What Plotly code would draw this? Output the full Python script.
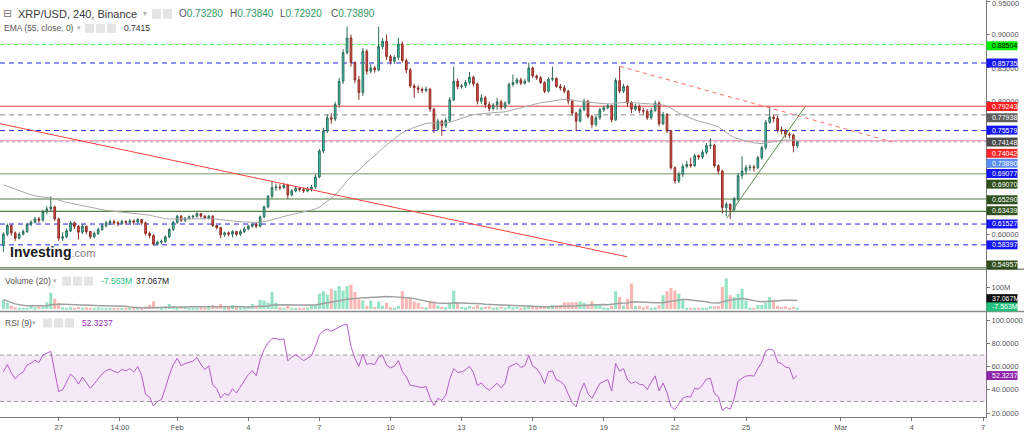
import plotly.graph_objects as go
import pandas as pd

W, H = 1024, 432
START = "2022-01-24 16:00"
open_first = 0.583

close = [
    0.600, 0.613, 0.602, 0.594, 0.600, 0.604, 0.615, 0.618, 0.623, 0.621,
    0.634, 0.638, 0.641, 0.623, 0.594, 0.596, 0.605, 0.617, 0.612, 0.603,
    0.612, 0.604, 0.596, 0.601, 0.607, 0.613, 0.617, 0.619, 0.617, 0.616,
    0.619, 0.618, 0.620, 0.618, 0.622, 0.617, 0.601, 0.598, 0.585, 0.588,
    0.589, 0.596, 0.607, 0.618, 0.627, 0.621, 0.624, 0.626, 0.627, 0.631,
    0.627, 0.624, 0.627, 0.613, 0.610, 0.599, 0.602, 0.600, 0.604, 0.600,
    0.604, 0.608, 0.612, 0.615, 0.612, 0.626, 0.641, 0.657, 0.670, 0.671,
    0.670, 0.674, 0.659, 0.665, 0.669, 0.667, 0.665, 0.668, 0.671, 0.686,
    0.725, 0.755, 0.775, 0.773, 0.795, 0.830, 0.873, 0.895, 0.858, 0.832,
    0.813, 0.875, 0.845, 0.850, 0.847, 0.882, 0.890, 0.867, 0.860, 0.866,
    0.886, 0.861, 0.847, 0.823, 0.820, 0.818, 0.816, 0.818, 0.788, 0.758,
    0.770, 0.763, 0.771, 0.802, 0.830, 0.822, 0.823, 0.828, 0.836, 0.826,
    0.800, 0.805, 0.795, 0.789, 0.794, 0.799, 0.791, 0.797, 0.825, 0.828,
    0.832, 0.827, 0.830, 0.850, 0.838, 0.835, 0.828, 0.815, 0.833, 0.834,
    0.822, 0.820, 0.815, 0.800, 0.782, 0.770, 0.787, 0.800, 0.777, 0.765,
    0.775, 0.787, 0.790, 0.793, 0.772, 0.831, 0.815, 0.822, 0.797, 0.788,
    0.792, 0.786, 0.785, 0.775, 0.786, 0.797, 0.766, 0.780, 0.755, 0.700,
    0.680, 0.690, 0.702, 0.705, 0.703, 0.718, 0.716, 0.723, 0.733, 0.734,
    0.703, 0.695, 0.640, 0.645, 0.637, 0.653, 0.688, 0.695, 0.700, 0.701,
    0.700, 0.715, 0.730, 0.768, 0.776, 0.774, 0.757, 0.755, 0.750, 0.749,
    0.7328, 0.7389]

high = [
    0.603, 0.616, 0.615, 0.604, 0.603, 0.607, 0.617, 0.621, 0.626, 0.626,
    0.637, 0.642, 0.657, 0.643, 0.625, 0.603, 0.609, 0.620, 0.619, 0.614,
    0.615, 0.613, 0.605, 0.604, 0.610, 0.616, 0.620, 0.622, 0.622, 0.620,
    0.622, 0.621, 0.623, 0.622, 0.624, 0.623, 0.619, 0.604, 0.600, 0.590,
    0.592, 0.598, 0.609, 0.620, 0.629, 0.629, 0.626, 0.628, 0.629, 0.633,
    0.632, 0.629, 0.629, 0.629, 0.614, 0.611, 0.604, 0.604, 0.606, 0.605,
    0.607, 0.611, 0.614, 0.617, 0.617, 0.628, 0.643, 0.659, 0.680, 0.676,
    0.675, 0.677, 0.676, 0.668, 0.672, 0.671, 0.670, 0.671, 0.674, 0.690,
    0.728, 0.760, 0.780, 0.782, 0.799, 0.835, 0.878, 0.912, 0.900, 0.860,
    0.838, 0.880, 0.878, 0.856, 0.853, 0.912, 0.895, 0.900, 0.870, 0.869,
    0.895, 0.890, 0.864, 0.850, 0.826, 0.824, 0.821, 0.822, 0.820, 0.790,
    0.774, 0.772, 0.775, 0.806, 0.852, 0.834, 0.826, 0.832, 0.844, 0.838,
    0.828, 0.810, 0.808, 0.799, 0.797, 0.805, 0.802, 0.800, 0.828, 0.840,
    0.835, 0.835, 0.833, 0.858, 0.852, 0.840, 0.838, 0.830, 0.836, 0.852,
    0.836, 0.826, 0.824, 0.817, 0.802, 0.784, 0.790, 0.804, 0.802, 0.780,
    0.778, 0.790, 0.793, 0.796, 0.795, 0.835, 0.852, 0.826, 0.824, 0.800,
    0.796, 0.795, 0.790, 0.788, 0.790, 0.801, 0.800, 0.784, 0.782, 0.757,
    0.702, 0.694, 0.706, 0.710, 0.715, 0.721, 0.720, 0.727, 0.737, 0.744,
    0.736, 0.705, 0.697, 0.648, 0.646, 0.656, 0.692, 0.717, 0.704, 0.705,
    0.704, 0.718, 0.733, 0.772, 0.792, 0.780, 0.778, 0.762, 0.758, 0.753,
    0.751, 0.7389]

low = [
    0.573, 0.597, 0.598, 0.590, 0.592, 0.598, 0.602, 0.612, 0.616, 0.617,
    0.619, 0.630, 0.634, 0.620, 0.590, 0.590, 0.594, 0.603, 0.608, 0.592,
    0.600, 0.600, 0.593, 0.594, 0.599, 0.605, 0.610, 0.614, 0.614, 0.612,
    0.614, 0.614, 0.615, 0.614, 0.616, 0.614, 0.598, 0.594, 0.583, 0.583,
    0.585, 0.587, 0.594, 0.605, 0.615, 0.618, 0.618, 0.622, 0.623, 0.625,
    0.625, 0.622, 0.622, 0.611, 0.607, 0.594, 0.596, 0.597, 0.595, 0.597,
    0.597, 0.602, 0.606, 0.610, 0.609, 0.610, 0.624, 0.639, 0.654, 0.665,
    0.666, 0.668, 0.653, 0.657, 0.663, 0.664, 0.662, 0.663, 0.664, 0.668,
    0.684, 0.722, 0.752, 0.766, 0.770, 0.790, 0.826, 0.870, 0.852, 0.827,
    0.802, 0.808, 0.840, 0.842, 0.843, 0.845, 0.878, 0.862, 0.855, 0.856,
    0.862, 0.858, 0.842, 0.820, 0.805, 0.812, 0.812, 0.813, 0.784, 0.752,
    0.755, 0.748, 0.760, 0.768, 0.800, 0.818, 0.819, 0.820, 0.825, 0.822,
    0.795, 0.796, 0.790, 0.785, 0.786, 0.787, 0.787, 0.788, 0.795, 0.822,
    0.825, 0.824, 0.825, 0.828, 0.835, 0.832, 0.826, 0.812, 0.813, 0.830,
    0.820, 0.816, 0.812, 0.795, 0.778, 0.755, 0.768, 0.785, 0.774, 0.760,
    0.762, 0.772, 0.784, 0.788, 0.768, 0.770, 0.812, 0.812, 0.792, 0.782,
    0.785, 0.782, 0.780, 0.772, 0.772, 0.784, 0.762, 0.764, 0.752, 0.697,
    0.676, 0.677, 0.686, 0.699, 0.700, 0.701, 0.712, 0.713, 0.720, 0.728,
    0.700, 0.690, 0.631, 0.627, 0.623, 0.633, 0.650, 0.683, 0.690, 0.695,
    0.694, 0.698, 0.712, 0.727, 0.766, 0.768, 0.753, 0.750, 0.745, 0.744,
    0.723, 0.7292]

volume_m = [
    44, 29, 16, 8, 4, 4, 6, 16, 8, 11,
    12, 32, 76, 48, 29, 8, 6, 8, 6, 10,
    5, 8, 6, 5, 8, 4, 5, 4, 4, 6,
    5, 4, 5, 3, 5, 8, 12, 20, 35, 10,
    8, 12, 24, 14, 8, 10, 14, 6, 5, 6,
    8, 5, 8, 19, 10, 24, 6, 8, 19, 8,
    6, 8, 10, 24, 10, 44, 40, 29, 80, 29,
    8, 6, 16, 6, 5, 4, 5, 6, 19, 19,
    72, 83, 67, 95, 87, 108, 87, 108, 114, 80,
    48, 40, 16, 40, 10, 35, 16, 29, 8, 6,
    16, 83, 48, 48, 35, 29, 10, 8, 35, 35,
    16, 10, 8, 29, 87, 29, 10, 8, 14, 10,
    19, 8, 10, 12, 6, 8, 10, 6, 14, 8,
    10, 6, 8, 19, 10, 8, 12, 16, 10, 19,
    16, 19, 32, 32, 32, 32, 35, 29, 16, 35,
    24, 19, 8, 6, 16, 83, 56, 16, 48, 119,
    16, 16, 8, 16, 6, 8, 19, 64, 83, 98,
    87, 72, 48, 6, 4, 4, 5, 4, 6, 12,
    12, 14, 103, 143, 64, 56, 72, 95, 40, 6,
    6, 19, 19, 29, 56, 44, 16, 10, 12, 4,
    10, 2]

x_tick_dates = ["2022-01-27", "2022-01-29 14:00", "2022-02-01", "2022-02-04",
                "2022-02-07", "2022-02-10", "2022-02-13", "2022-02-16",
                "2022-02-19", "2022-02-22", "2022-02-25", "2022-03-01",
                "2022-03-04", "2022-03-07"]
x_tick_text = ["27", "14:00", "Feb", "4", "7", "10", "13", "16", "19", "22",
               "25", "Mar", "4", "7"]

# price-axis ticks (label text shown only where the reference shows it)
price_ticks = [0.55, 0.60, 0.65, 0.70, 0.75, 0.80, 0.85, 0.90, 0.95]
price_tick_text = ["", "0.60000", "", "", "", "0.80000", "0.85000", "0.90000", ""]

# horizontal levels: price, color, dash, width
levels = [
    (0.88504, "#55f055", "4px,3px", 1),
    (0.85735, "#2424f0", "5px,4px", 1),
    (0.79243, "#f43a3a", "solid", 1),
    (0.77938, "#8a8a8a", "5px,4px", 1),
    (0.75579, "#2424f0", "5px,4px", 1),
    (0.74042, "#f28a8a", "solid", 1),
    (0.73890, "#a7a7ee", "dot", 1),
    (0.69070, "#a3b896", "solid", 1.5),
    (0.65290, "#557f40", "solid", 1.2),
    (0.63439, "#557f40", "solid", 1.2),
    (0.61527, "#2424f0", "5px,4px", 1),
    (0.58397, "#2424f0", "5px,4px", 1),
    (0.54957, "#557f40", "solid", 1.2),
]

trend_red_x = ["2022-01-24 11:30", "2022-02-19 23:30"]
trend_red_y = [0.7665, 0.5660]
trend_red_dash_x = ["2022-02-19 16:20", "2022-03-03 04:50"]
trend_red_dash_y = [0.8523, 0.7385]
trend_green_x = ["2022-02-24 04:30", "2022-02-27 11:45"]
trend_green_y = [0.6239, 0.7915]

ema_seed = 0.677
rsi_seed_gain, rsi_seed_loss = 0.0040, 0.0049

# ---------------- derived series ----------------
n = len(close)
times = pd.date_range(START, periods=n, freq="4h")
opens = [open_first] + close[:-1]
highs = [max(h, o, c) for h, o, c in zip(high, opens, close)]
lows = [min(l, o, c) for l, o, c in zip(low, opens, close)]

alpha = 2 / 56
ema, e = [], ema_seed
for c in close:
    e = e + alpha * (c - e)
    ema.append(e)

rsi, ag, al, prev = [], rsi_seed_gain, rsi_seed_loss, open_first
for c in close:
    ch = c - prev
    ag = (ag * 8 + max(ch, 0)) / 9
    al = (al * 8 + max(-ch, 0)) / 9
    rsi.append(100 - 100 / (1 + ag / al) if al > 0 else 100)
    prev = c

vol_ma = []
for i in range(n):
    seg = volume_m[max(0, i - 19):i + 1]
    vol_ma.append(sum(seg) / len(seg))
vol_colors = ["#93e4c3" if c >= o else "#f9b6b2" for o, c in zip(opens, close)]

# ---------------- geometry ----------------
XR_PX = 986
XR = XR_PX / W
t0 = pd.Timestamp("2022-01-27")
PX0, DAYPX = 58.7, 23.7
x_left = t0 + pd.Timedelta(days=-PX0 / DAYPX)
x_right = t0 + pd.Timedelta(days=(XR_PX - PX0) / DAYPX)
xrange = [x_left.strftime("%Y-%m-%d %H:%M:%S"), x_right.strftime("%Y-%m-%d %H:%M:%S")]

SCALE = 668.3
p_top = 0.85735 + 63.3 / SCALE
p_bot = 0.85735 - (270 - 63.3) / SCALE


def py(px):
    return 1 - px / H


FONT = "Liberation Sans"

fig = go.Figure()

fig.add_trace(go.Candlestick(
    x=times, open=opens, high=highs, low=lows, close=close,
    xaxis="x2", yaxis="y",
    increasing=dict(fillcolor="#36dcc6", line=dict(color="#2f6b58", width=1)),
    decreasing=dict(fillcolor="#ec5046", line=dict(color="#8a2f27", width=1)),
    whiskerwidth=0, showlegend=False, hoverinfo="skip"))

fig.add_trace(go.Scatter(x=times, y=ema, xaxis="x2", yaxis="y", mode="lines",
                         line=dict(color="#a8a8a8", width=1), hoverinfo="skip"))
fig.add_trace(go.Scatter(x=trend_red_x, y=trend_red_y, xaxis="x2", yaxis="y", mode="lines",
                         line=dict(color="#ff4040", width=1), hoverinfo="skip"))
fig.add_trace(go.Scatter(x=trend_red_dash_x, y=trend_red_dash_y, xaxis="x2", yaxis="y", mode="lines",
                         line=dict(color="#ff6a6a", width=1, dash="4px,4px"), hoverinfo="skip"))
fig.add_trace(go.Scatter(x=trend_green_x, y=trend_green_y, xaxis="x2", yaxis="y", mode="lines",
                         line=dict(color="#5d8a4c", width=1), hoverinfo="skip"))

fig.add_trace(go.Bar(x=times, y=volume_m, xaxis="x3", yaxis="y2",
                     marker=dict(color=vol_colors, line=dict(width=0)), hoverinfo="skip"))
fig.add_trace(go.Scatter(x=times, y=vol_ma, xaxis="x3", yaxis="y2", mode="lines",
                         line=dict(color="#a0a0a0", width=1.5), hoverinfo="skip"))

fig.add_trace(go.Scatter(x=times, y=rsi, xaxis="x", yaxis="y3", mode="lines",
                         line=dict(color="#b25ec6", width=1), hoverinfo="skip"))

shapes = []
for p, col, dash, wd in levels:
    shapes.append(dict(type="line", xref="paper", x0=0, x1=XR, yref="y", y0=p, y1=p,
                       line=dict(color=col, width=wd, dash=dash), layer="below"))
# RSI band
shapes.append(dict(type="rect", xref="paper", x0=0, x1=XR, yref="y3", y0=30, y1=70,
                   fillcolor="rgba(156,39,176,0.10)", line=dict(width=0), layer="below"))
for v in (30, 70):
    shapes.append(dict(type="line", xref="paper", x0=0, x1=XR, yref="y3", y0=v, y1=v,
                       line=dict(color="#a0a0a0", width=1, dash="4px,3px"), layer="below"))
# pane separators
for ypx in (270.5, 313):
    shapes.append(dict(type="line", xref="paper", x0=0, x1=1, yref="paper", y0=py(ypx), y1=py(ypx),
                       line=dict(color="#8c8c8c", width=1.5), layer="above"))

# icon boxes
icons = [(152, 9, 161, 19), (163, 9, 172, 19),
         (85, 24, 94, 33), (96, 24, 105, 33), (107, 24, 116, 33),
         (62, 278, 71, 287), (73, 278, 82, 287), (84, 278, 93, 287),
         (43, 320, 52, 329), (54, 320, 63, 329), (65, 320, 74, 329)]
for x0, y0, x1, y1 in icons:
    shapes.append(dict(type="rect", xref="paper", yref="paper", x0=x0 / W, x1=x1 / W,
                       y0=py(y1), y1=py(y0), fillcolor="#e4e4e4", line=dict(width=0), layer="above"))

annotations = []


def ann(text, xpx, ypx, size, color, family=FONT, anchor="left"):
    annotations.append(dict(xref="paper", yref="paper", x=xpx / W, y=py(ypx), xanchor=anchor,
                            yanchor="middle", text=text, showarrow=False,
                            font=dict(size=size, color=color, family=family)))


# right-side value boxes
boxes = [
    ("0.88504", 46.0, "#00ee00", "#000000"),
    ("0.85735", 63.3, "#1414f5", "#ffffff"),
    ("0.79243", 107.0, "#ff1e1e", "#ffffff"),
    ("0.77938", 118.3, "#5f5f5f", "#ffffff"),
    ("0.75579", 130.7, "#1414f5", "#ffffff"),
    ("0.74148", 142.7, "#4a4a4a", "#ffffff"),
    ("0.74042", 154.0, "#ff2828", "#ffffff"),
    ("0.73890", 164.0, "#5b8cf0", "#ffffff"),
    ("0.69077", 174.3, "#1414f5", "#ffffff"),
    ("0.69070", 185.0, "#2f4f1d", "#ffffff"),
    ("0.65290", 200.7, "#2f4f1d", "#ffffff"),
    ("0.63439", 211.7, "#2f4f1d", "#ffffff"),
    ("0.61527", 225.0, "#1414f5", "#ffffff"),
    ("0.58397", 246.0, "#1414f5", "#ffffff"),
    ("0.54957", 266.2, "#2f4f1d", "#ffffff"),
    ("37.067M", 300.0, "#111111", "#ffffff"),
    ("-7.563M", 308.3, "#22c07c", "#ffffff"),
    ("52.3237", 377.3, "#8e24aa", "#ffffff"),
]
for txt, ypx, bg, fg in boxes:
    wbox = 31 if len(txt) <= 7 else 34
    shapes.append(dict(type="rect", xref="paper", yref="paper", x0=986.5 / W, x1=(986.5 + wbox) / W,
                       y0=py(ypx + 4.5), y1=py(ypx - 4.5), fillcolor=bg, line=dict(width=0), layer="above"))
    ann(txt, 989.5, ypx, 7, fg)

ann("0.95000", 989.5, 3.6, 7.5, "#555555")

# header texts
ann("⊟", 1, 14, 11, "#777777", "DejaVu Sans")
ann("XRP/USD, 240, Binance", 16, 14, 11, "#3a3a3a")
ann("▾", 141, 14, 8, "#b0b0b0", "DejaVu Sans")
for lab, val, xpx in (("O", "0.73280", 177), ("H", "0.73840", 228), ("L", "0.72920", 278), ("C", "0.73890", 329)):
    ann(lab + "<span style='color:#2f9a63'>" + val + "</span>", xpx, 14, 10, "#555555")

ann("EMA (55, close, 0)", 2, 28.3, 8.5, "#555555")
ann("▾", 75, 28.3, 7, "#b0b0b0", "DejaVu Sans")
ann("0.7415", 122, 28.3, 8.5, "#333333")

ann("Volume (20)", 3, 282, 8.5, "#555555")
ann("▾", 51, 282, 7, "#b0b0b0", "DejaVu Sans")
ann("-7.563M", 99, 282, 8.5, "#22c07c")
ann("37.067M", 134, 282, 8.5, "#222222")

ann("RSI (9)", 3, 324.7, 8.5, "#555555")
ann("▾", 30, 324.7, 7, "#b0b0b0", "DejaVu Sans")
ann("52.3237", 80, 324.7, 8.5, "#9c27b0")

ann("<b>Investing</b><span style='font-size:11px;color:#808080'>.com</span>", 8, 253, 14, "#1a1a1a")

axfont = dict(size=7.5, color="#555555", family=FONT)

fig.update_layout(
    width=W, height=H, margin=dict(l=0, r=0, t=0, b=0),
    paper_bgcolor="white", plot_bgcolor="white", showlegend=False,
    hovermode=False, bargap=0.22, boxgap=0.4,
    xaxis=dict(domain=[0, XR], anchor="y3", type="date", range=xrange,
               tickvals=x_tick_dates, ticktext=x_tick_text, tickfont=axfont,
               showgrid=False, zeroline=False, showline=True, linecolor="#7a7a7a",
               linewidth=1, ticks="outside", ticklen=3, tickcolor="#7a7a7a",
               rangeslider=dict(visible=False)),
    xaxis2=dict(domain=[0, XR], anchor="y", type="date", range=xrange, matches="x",
                showticklabels=False, showgrid=False, zeroline=False, showline=False,
                rangeslider=dict(visible=False)),
    xaxis3=dict(domain=[0, XR], anchor="y2", type="date", range=xrange, matches="x",
                showticklabels=False, showgrid=False, zeroline=False, showline=False,
                rangeslider=dict(visible=False)),
    yaxis=dict(domain=[py(270), 1], anchor="x2", side="right", range=[p_bot, p_top],
               tickvals=price_ticks, ticktext=price_tick_text,
               tickfont=axfont, ticks="outside", ticklen=3, tickcolor="#7a7a7a",
               showgrid=False, zeroline=False, showline=True, linecolor="#7a7a7a"),
    yaxis2=dict(domain=[py(313), py(271)], anchor="x3", side="right",
                range=[-2.5 / 0.215, 39.5 / 0.215], tickvals=[100], ticktext=["100M"],
                tickfont=axfont, ticks="outside", ticklen=3, tickcolor="#7a7a7a",
                showgrid=False, zeroline=False, showline=True, linecolor="#7a7a7a"),
    yaxis3=dict(domain=[py(419), py(313)], anchor="x", side="right",
                range=[20 - 4 / 1.16625, 100 + 8.7 / 1.16625],
                tickvals=[20, 40, 60, 80, 100],
                ticktext=["20.0000", "40.0000", "60.0000", "80.0000", "100.0000"],
                tickfont=axfont, ticks="outside", ticklen=3, tickcolor="#7a7a7a",
                showgrid=False, zeroline=False, showline=True, linecolor="#7a7a7a"),
    shapes=shapes, annotations=annotations,
)

fig.write_html("out.html")
